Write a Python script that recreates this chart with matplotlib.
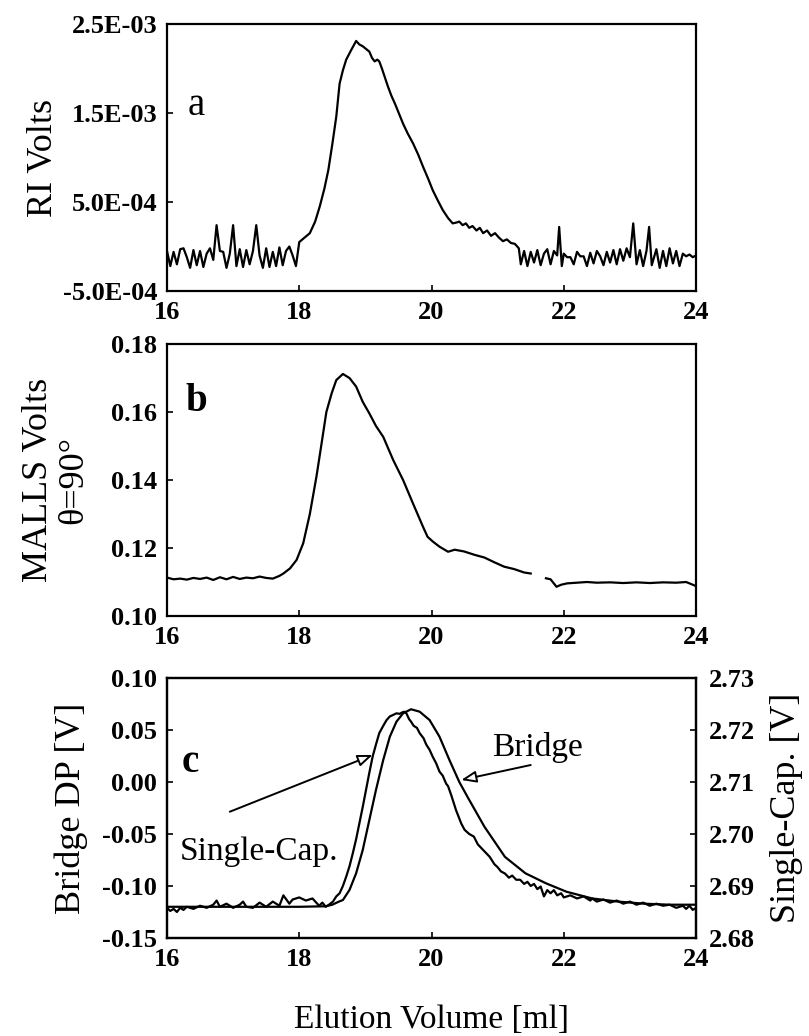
import numpy as np
import matplotlib.pyplot as plt

plt.rcParams['font.family'] = ['Liberation Serif', 'DejaVu Serif']
plt.rcParams['axes.unicode_minus'] = False

# panel a: RI detector (volts, given in units of 1e-3)
ri_x = [16.00, 16.05, 16.10, 16.15, 16.20, 16.25, 16.30, 16.35, 16.40, 16.45,
        16.50, 16.55, 16.60, 16.65, 16.70, 16.75, 16.80, 16.85, 16.90, 16.95,
        17.00, 17.05, 17.10, 17.15, 17.20, 17.25, 17.30, 17.35, 17.40, 17.45,
        17.50, 17.55, 17.60, 17.65, 17.70, 17.75, 17.80, 17.85, 17.90, 17.95,
        18.00, 18.08, 18.16, 18.24, 18.31, 18.38, 18.44, 18.50, 18.56, 18.61,
        18.66, 18.71, 18.78, 18.86, 18.91, 18.96, 19.01, 19.06, 19.10, 19.14,
        19.18, 19.21, 19.25, 19.29, 19.34, 19.39, 19.45, 19.51, 19.57, 19.64,
        19.72, 19.80, 19.87, 19.95, 20.02, 20.10, 20.17, 20.25, 20.32, 20.38,
        20.42, 20.47, 20.52, 20.57, 20.62, 20.68, 20.73, 20.78, 20.84, 20.90,
        20.96, 21.02, 21.08, 21.14, 21.20, 21.26, 21.32,
        21.35, 21.40, 21.45, 21.50, 21.55, 21.60, 21.65, 21.70, 21.75, 21.80,
        21.85, 21.90, 21.93, 21.97, 22.00, 22.05, 22.10, 22.15, 22.20, 22.25,
        22.30, 22.35, 22.40, 22.45, 22.50, 22.55, 22.60, 22.65, 22.70, 22.75,
        22.80, 22.85, 22.90, 22.95, 23.00, 23.05, 23.10, 23.15, 23.20, 23.25,
        23.29, 23.33, 23.40, 23.45, 23.50, 23.55, 23.60, 23.65, 23.70, 23.75,
        23.80, 23.85, 23.90, 23.95, 24.00]
ri_y = [-0.05, -0.22, -0.06, -0.20, -0.03, -0.02, -0.12, -0.24, -0.04, -0.21,
        -0.05, -0.23, -0.08, -0.02, -0.15, 0.24, -0.05, -0.06, -0.24, -0.08,
        0.24, -0.22, -0.03, -0.23, -0.04, -0.20, -0.05, 0.24, -0.10, -0.24,
        -0.02, -0.23, -0.06, -0.22, -0.01, -0.21, -0.05, 0.00, -0.10, -0.22,
        0.05, 0.10, 0.15, 0.28, 0.45, 0.65, 0.86, 1.15, 1.46, 1.83,
        1.98, 2.10, 2.20, 2.31, 2.27, 2.25, 2.22, 2.19, 2.12, 2.08,
        2.10, 2.08, 2.00, 1.91, 1.80, 1.70, 1.60, 1.49, 1.38, 1.27,
        1.16, 1.03, 0.90, 0.76, 0.63, 0.51, 0.41, 0.32, 0.26, 0.27,
        0.28, 0.24, 0.26, 0.21, 0.23, 0.18, 0.21, 0.15, 0.18, 0.12,
        0.15, 0.10, 0.06, 0.08, 0.04, 0.03, -0.02,
        -0.20, -0.05, -0.22, -0.06, -0.18, -0.04, -0.21, -0.08, -0.03, -0.20,
        -0.05, -0.10, 0.22, -0.22, -0.08, -0.12, -0.12, -0.20, -0.06, -0.11,
        -0.11, -0.22, -0.07, -0.19, -0.05, -0.11, -0.21, -0.06, -0.18, -0.04,
        -0.20, -0.03, -0.16, -0.02, -0.12, 0.26, -0.20, -0.04, -0.22, -0.05,
        0.22, -0.21, -0.03, -0.24, -0.05, -0.22, -0.02, -0.19, -0.05, -0.22,
        -0.08, -0.11, -0.09, -0.12, -0.10]
ri_ticks = [-5e-4, 5e-4, 1.5e-3, 2.5e-3]
ri_labels = ['-5.0E-04', '5.0E-04', '1.5E-03', '2.5E-03']

# panel b: MALLS 90 degree detector
ls_x = [16.0, 16.1, 16.2, 16.3, 16.4, 16.5, 16.6, 16.7, 16.8, 16.9,
        17.0, 17.1, 17.2, 17.3, 17.4, 17.5, 17.6, 17.7, 17.76, 17.86,
        17.96, 18.06, 18.16, 18.26, 18.33, 18.41, 18.49, 18.56, 18.66, 18.76,
        18.86, 18.96, 19.06, 19.16, 19.27, 19.42, 19.57, 19.72, 19.87, 19.94,
        20.02, 20.12, 20.25, 20.35, 20.49, 20.65, 20.80, 20.95, 21.10, 21.25,
        21.40, 21.50, 21.60, 21.73, 21.80, 21.89, 21.96, 22.05, 22.20, 22.35,
        22.50, 22.70, 22.90, 23.10, 23.30, 23.50, 23.70, 23.85, 24.00]
ls_y = [0.1113, 0.1108, 0.1110, 0.1107, 0.1112, 0.1109, 0.1113, 0.1106, 0.1114, 0.1108,
        0.1115, 0.1109, 0.1113, 0.1111, 0.1116, 0.1112, 0.1110, 0.1118, 0.1125, 0.1140,
        0.1165, 0.1214, 0.1300, 0.1410, 0.1498, 0.1600, 0.1655, 0.1694, 0.1712, 0.1700,
        0.1675, 0.1630, 0.1596, 0.1559, 0.1527, 0.1459, 0.1400, 0.1331, 0.1263, 0.1233,
        0.1219, 0.1204, 0.1189, 0.1195, 0.1190, 0.1180, 0.1172, 0.1158, 0.1145, 0.1138,
        0.1128, 0.1125, np.nan, 0.1111, 0.1108, 0.1086, 0.1092, 0.1096, 0.1098, 0.1100,
        0.1098, 0.1099, 0.1097, 0.1099, 0.1097, 0.1099, 0.1098, 0.1100, 0.1088]

# panel c: bridge (left axis) and single capillary (right axis)
br_x = [16.0, 17.0, 18.0, 18.4, 18.5, 18.6, 18.66, 18.76, 18.86, 18.96,
        19.06, 19.16, 19.27, 19.37, 19.47, 19.57, 19.69, 19.82, 19.97, 20.12,
        20.27, 20.42, 20.55, 20.80, 21.11, 21.42, 21.73, 22.04, 22.43, 22.82,
        23.21, 23.60, 24.00]
br_y = [-0.1200, -0.1200, -0.1200, -0.1195, -0.1180, -0.1150, -0.1135, -0.1038, -0.0878, -0.0654,
        -0.0365, -0.0077, 0.0212, 0.0436, 0.0580, 0.0660, 0.0699, 0.0676, 0.0596, 0.0436,
        0.0212, 0.0000, -0.0150, -0.0430, -0.0720, -0.0878, -0.0974, -0.1055, -0.1120, -0.1150,
        -0.1170, -0.1180, -0.1180]

sc_x = [16.00, 16.05, 16.10, 16.15, 16.20, 16.25, 16.30, 16.40, 16.50, 16.60,
        16.70, 16.75, 16.80, 16.90, 17.00, 17.10, 17.15, 17.20, 17.30, 17.40,
        17.50, 17.60, 17.70, 17.76, 17.85, 17.90, 18.00, 18.10, 18.20, 18.30,
        18.35, 18.40, 18.45,
        18.51, 18.56, 18.61, 18.66, 18.71, 18.76, 18.81, 18.86, 18.91, 18.96,
        19.01, 19.06, 19.11, 19.16, 19.21, 19.27, 19.32, 19.37, 19.42, 19.47,
        19.52, 19.56, 19.59, 19.62, 19.66, 19.69, 19.73, 19.78, 19.82, 19.88,
        19.92, 19.97, 20.02, 20.07, 20.12, 20.17, 20.22, 20.25, 20.30, 20.37,
        20.45, 20.50, 20.57, 20.64, 20.70, 20.76, 20.82, 20.88, 20.95, 21.00,
        21.05, 21.11, 21.17, 21.22, 21.28, 21.34, 21.40, 21.45, 21.50, 21.55,
        21.60, 21.65, 21.70, 21.75, 21.80, 21.85, 21.90, 21.96, 22.00, 22.10,
        22.20, 22.30, 22.40, 22.43, 22.50, 22.60, 22.70, 22.80, 22.90, 23.00,
        23.10, 23.20, 23.30, 23.40, 23.50, 23.60, 23.70, 23.80, 23.85, 23.90,
        23.95, 24.00]
sc_y = [2.6858, 2.6852, 2.6856, 2.6850, 2.6858, 2.6854, 2.6860, 2.6856, 2.6862, 2.6858,
        2.6864, 2.6872, 2.6860, 2.6866, 2.6858, 2.6864, 2.6870, 2.6860, 2.6858, 2.6868,
        2.6860, 2.6870, 2.6862, 2.6882, 2.6866, 2.6874, 2.6878, 2.6872, 2.6876, 2.6862,
        2.6868, 2.6860, 2.6864,
        2.6870, 2.6880, 2.6886, 2.6900, 2.6918, 2.6938, 2.6963, 2.6990, 2.7021, 2.7052,
        2.7085, 2.7118, 2.7149, 2.7172, 2.7194, 2.7208, 2.7219, 2.7226, 2.7229, 2.7232,
        2.7231, 2.7234, 2.7235, 2.7232, 2.7221, 2.7216, 2.7208, 2.7204, 2.7194, 2.7184,
        2.7172, 2.7162, 2.7148, 2.7136, 2.7120, 2.7112, 2.7097, 2.7092, 2.7074, 2.7046,
        2.7020, 2.7008, 2.7000, 2.6995, 2.6980, 2.6972, 2.6964, 2.6956, 2.6942, 2.6936,
        2.6928, 2.6924, 2.6916, 2.6920, 2.6912, 2.6912, 2.6904, 2.6908, 2.6900, 2.6904,
        2.6894, 2.6899, 2.6880, 2.6892, 2.6886, 2.6892, 2.6882, 2.6886, 2.6878, 2.6882,
        2.6876, 2.6880, 2.6872, 2.6876, 2.6870, 2.6874, 2.6868, 2.6872, 2.6866, 2.6870,
        2.6864, 2.6868, 2.6862, 2.6866, 2.6862, 2.6864, 2.6858, 2.6862, 2.6856, 2.6862,
        2.6854, 2.6858]

x_ticks = [16, 18, 20, 22, 24]
bridge_ticks = [-0.15, -0.10, -0.05, 0.00, 0.05, 0.10]
cap_ticks = [2.68, 2.69, 2.70, 2.71, 2.72, 2.73]

TICK_SIZE = 19
LABEL_SIZE = 26
LW = 1.6


def style_axis(ax):
    for sp in ax.spines.values():
        sp.set_linewidth(1.6)
    ax.set_xlim(16, 24)
    ax.set_xticks(x_ticks)
    ax.set_xticklabels([str(t) for t in x_ticks])
    ax.tick_params(direction='in', length=4, width=1.2, labelsize=TICK_SIZE, pad=7)
    for lab in ax.get_xticklabels() + ax.get_yticklabels():
        lab.set_fontweight('bold')


fig = plt.figure(figsize=(8.09, 10.36), dpi=100)
left, width = 0.2064, 0.654

# a
ax_a = fig.add_axes([left, 0.7191, width, 0.2577])
ax_a.plot(ri_x, np.array(ri_y) * 1e-3, color='black', lw=LW)
ax_a.set_ylim(-5e-4, 2.5e-3)
ax_a.set_yticks(ri_ticks)
ax_a.set_yticklabels(ri_labels)
style_axis(ax_a)
ax_a.set_ylabel('RI Volts', fontsize=LABEL_SIZE)
ax_a.yaxis.set_label_coords(-0.202, 0.5)
ax_a.text(16.45, 1.59e-3, 'a', fontsize=28, ha='center', va='center')

# b
ax_b = fig.add_axes([left, 0.4054, width, 0.2625])
ax_b.plot(ls_x, ls_y, color='black', lw=LW)
ax_b.set_ylim(0.10, 0.18)
ax_b.set_yticks([0.10, 0.12, 0.14, 0.16, 0.18])
ax_b.set_yticklabels(['0.10', '0.12', '0.14', '0.16', '0.18'])
style_axis(ax_b)
ax_b.set_ylabel('MALLS Volts\nθ=90°', fontsize=LABEL_SIZE, linespacing=1.1)
ax_b.yaxis.set_label_coords(-0.145, 0.5)
ax_b.text(16.45, 0.163, 'b', fontsize=28, fontweight='bold', ha='center', va='center')

# c
ax_c = fig.add_axes([left, 0.0946, width, 0.251])
ax_c.plot(br_x, br_y, color='black', lw=LW)
ax_c.set_ylim(-0.15, 0.10)
ax_c.set_yticks(bridge_ticks)
ax_c.set_yticklabels(['%.2f' % t for t in bridge_ticks])
style_axis(ax_c)
ax_c.set_ylabel('Bridge DP [V]', fontsize=LABEL_SIZE)
ax_c.yaxis.set_label_coords(-0.15, 0.5)
ax_c.set_xlabel('Elution Volume [ml]', fontsize=24)
ax_c.xaxis.set_label_coords(0.5, -0.255)

ax_c2 = ax_c.twinx()
ax_c2.plot(sc_x, sc_y, color='black', lw=LW)
ax_c2.set_ylim(2.68, 2.73)
ax_c2.set_yticks(cap_ticks)
ax_c2.set_yticklabels(['%.2f' % t for t in cap_ticks])
ax_c2.tick_params(direction='in', length=4, width=1.2, labelsize=TICK_SIZE, pad=9)
for lab in ax_c2.get_yticklabels():
    lab.set_fontweight('bold')
ax_c2.set_ylabel('Single-Cap. [V]', fontsize=LABEL_SIZE)
ax_c2.yaxis.set_label_coords(1.14, 0.5)
for sp in ax_c2.spines.values():
    sp.set_linewidth(1.6)

ax_c.text(16.35, 0.019, 'c', fontsize=28, fontweight='bold', ha='center', va='center')
ax_c.text(16.2, -0.067, 'Single-Cap.', fontsize=24, ha='left', va='center')
ax_c.text(20.91, 0.033, 'Bridge', fontsize=24, ha='left', va='center')
arrow = dict(arrowstyle='-|>,head_length=0.9,head_width=0.35',
             fc='white', ec='black', lw=1.4, shrinkA=0, shrinkB=0)
ax_c.annotate('', xy=(19.11, 0.026), xytext=(16.95, -0.0286), arrowprops=arrow)
ax_c.annotate('', xy=(20.45, 0.0019), xytext=(21.5, 0.0163), arrowprops=arrow)

fig.savefig('out.png', dpi=100)
